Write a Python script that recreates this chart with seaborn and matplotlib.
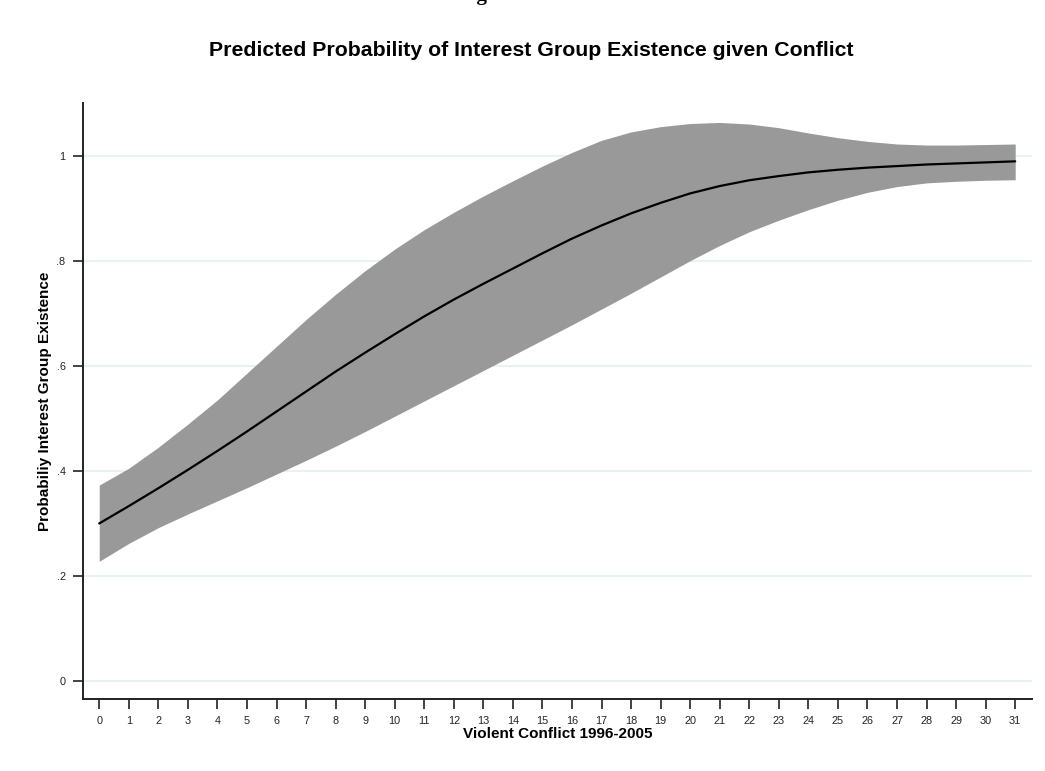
import numpy as np
import pandas as pd
import matplotlib
matplotlib.use("Agg")
import matplotlib.pyplot as plt
import seaborn as sns

# Violent conflict count (x) and predicted probability with 95% bounds
conflict = list(range(32))
predicted = [0.300, 0.333, 0.367, 0.402, 0.438, 0.475, 0.513, 0.551,
             0.589, 0.625, 0.660, 0.694, 0.726, 0.756, 0.785, 0.814,
             0.842, 0.867, 0.890, 0.910, 0.928, 0.942, 0.953, 0.961,
             0.968, 0.973, 0.977, 0.980, 0.983, 0.985, 0.987, 0.989]
upper = [0.373, 0.405, 0.445, 0.489, 0.535, 0.586, 0.637, 0.688,
         0.736, 0.781, 0.822, 0.859, 0.892, 0.923, 0.952, 0.980,
         1.006, 1.029, 1.045, 1.055, 1.061, 1.063, 1.060, 1.053,
         1.043, 1.034, 1.027, 1.022, 1.020, 1.020, 1.021, 1.022]
lower = [0.228, 0.262, 0.292, 0.318, 0.343, 0.368, 0.394, 0.420,
         0.447, 0.475, 0.504, 0.533, 0.562, 0.591, 0.620, 0.649,
         0.678, 0.708, 0.738, 0.769, 0.800, 0.829, 0.855, 0.877,
         0.897, 0.915, 0.930, 0.941, 0.948, 0.951, 0.953, 0.954]

y_ticks = [0, 0.2, 0.4, 0.6, 0.8, 1.0]
y_tick_labels = ["0", ".2", ".4", ".6", ".8", "1"]

title = "Predicted Probability of Interest Group Existence given Conflict"
x_label = "Violent Conflict 1996-2005"
y_label = "Probabiliy Interest Group Existence"

df = pd.DataFrame({"conflict": conflict, "predicted": predicted,
                   "upper": upper, "lower": lower})

sns.set_theme(style="white")
plt.rcParams["font.family"] = ["Liberation Sans", "DejaVu Sans"]

fig = plt.figure(figsize=(10.45, 7.71), dpi=100)
ax = fig.add_axes([0.0794, 0.0934, 0.9082, 0.773])

# light horizontal grid
for yv in y_ticks:
    ax.axhline(yv, color="#e9f1f2", lw=1.5, zorder=0)

ax.fill_between(df["conflict"], df["lower"], df["upper"],
                color="#999999", lw=0, zorder=2)
sns.lineplot(data=df, x="conflict", y="predicted", ax=ax,
             color="black", lw=1.6, zorder=3)

ax.set_xlim(-0.55, 31.57)
ax.set_ylim(-0.034, 1.1)
ax.set_xticks(conflict)
ax.set_xticklabels([str(c) for c in conflict])
ax.set_yticks(y_ticks)
ax.set_yticklabels(y_tick_labels)

ax.tick_params(axis="x", length=7, width=1.2, color="#222222",
               labelsize=7.8, labelcolor="#222222", pad=5, direction="out",
               bottom=True)
ax.tick_params(axis="y", length=7.5, width=1.2, color="#222222",
               labelsize=7.8, labelcolor="#222222", pad=5, direction="out",
               left=True)

for side in ["top", "right"]:
    ax.spines[side].set_visible(False)
for side in ["left", "bottom"]:
    ax.spines[side].set_color("#222222")
    ax.spines[side].set_linewidth(1.4)

ax.set_xlabel(x_label, fontsize=11, fontweight="bold", color="black",
              labelpad=1)
ax.set_ylabel(y_label, fontsize=11, fontweight="bold", color="black",
              labelpad=3)

fig.text(0.508, 1 - 50 / 771, title, ha="center", va="center",
         fontsize=15.3, fontweight="bold", color="black")
# caption heading sitting on the top edge
fig.text(0.474, 1.0, "Figure 3", ha="center", va="baseline",
         fontsize=15, fontweight="bold", color="black",
         family=["Liberation Serif", "DejaVu Serif"])

fig.savefig("out.png", dpi=100, facecolor="white")
